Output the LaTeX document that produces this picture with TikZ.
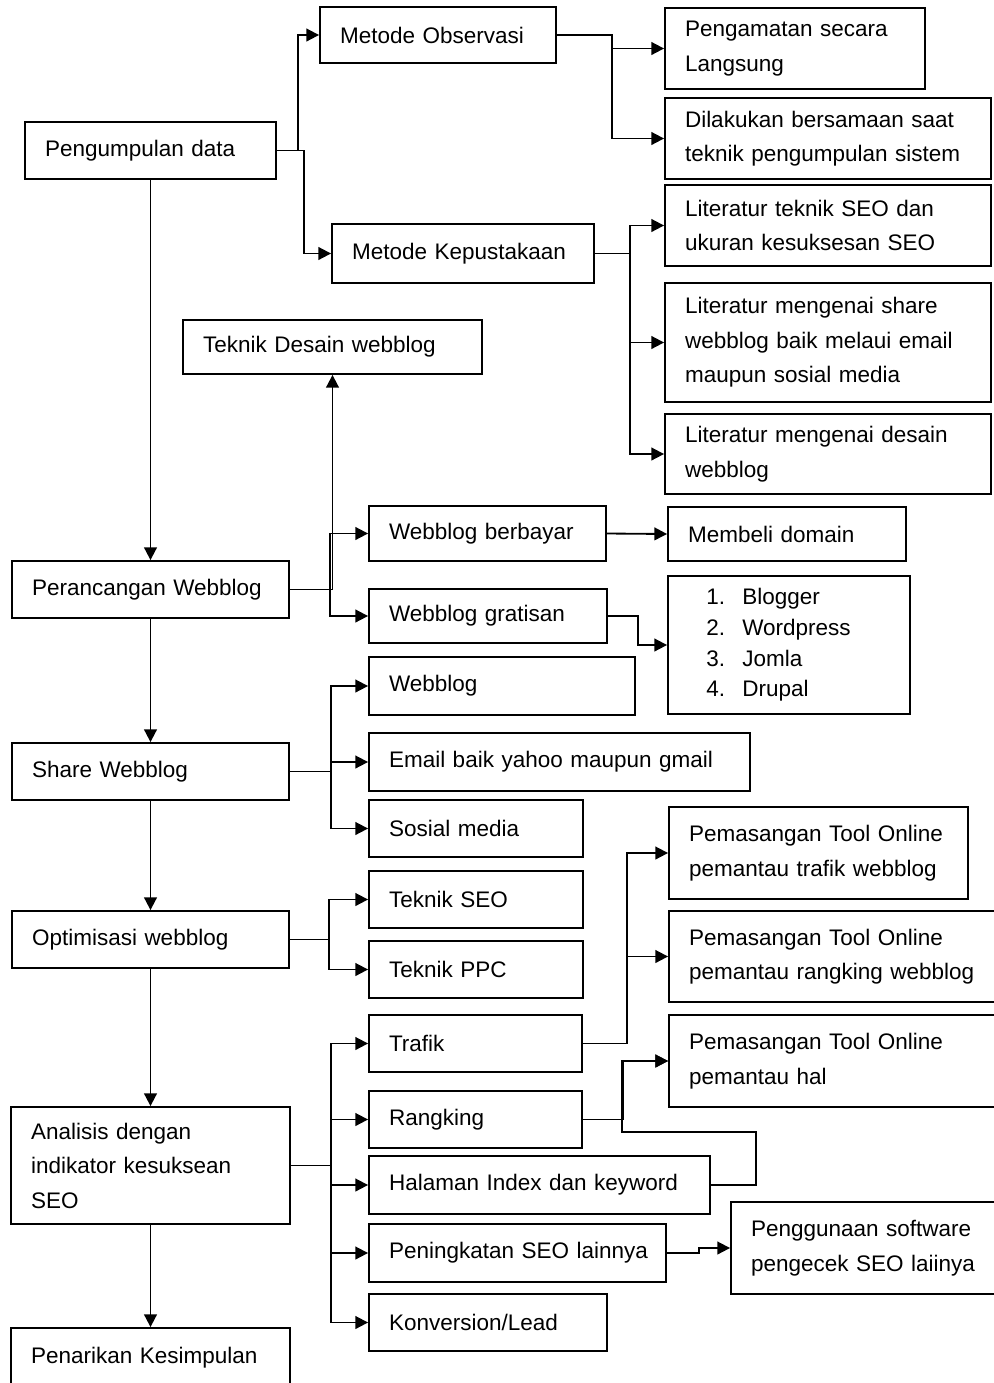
\documentclass[tikz,border=0pt]{standalone}
\usepackage{fontspec}
\setmainfont{Liberation Sans}
\usetikzlibrary{arrows.meta}

\tikzset{
  kotak/.style 2 args={draw, rectangle, line width=1.3pt, inner xsep=0.5cm, inner ysep=0pt,
    align=left, text width=#1*0.025cm-1cm, minimum height=#2*0.025cm},
  garis/.style={line width=1.3pt}
}

\begin{document}
\begin{tikzpicture}[x=0.025cm, y=-0.025cm, font=\fontsize{16}{24.5}\selectfont,
  >={Triangle[length=9pt,width=9pt]}]
\useasboundingbox (0,0) rectangle (994,1383);
\clip (0,0) rectangle (994,1383);

% alur utama
\node[kotak={251}{57}] (kumpul) at (150.5,150.5) {Pengumpulan data};
\node[kotak={277}{57}] (rancang) at (150.5,589.5) {Perancangan Webblog};
\node[kotak={277}{57}] (share) at (150.5,771.5) {Share Webblog};
\node[kotak={277}{57}] (optimasi) at (150.5,939.5) {Optimisasi webblog};
\node[kotak={279}{117}] (analisis) at (150.5,1165.5) {Analisis dengan\\indikator kesuksean\\SEO};
\node[kotak={279}{59}] (simpulan) at (150.5,1357.5) {Penarikan Kesimpulan};

% pengumpulan data
\node[kotak={236}{56}] (observasi) at (438,35) {Metode Observasi};
\node[kotak={262}{59}] (pustaka) at (463,253.5) {Metode Kepustakaan};
\node[kotak={260}{81}] (langsung) at (795,48.5) {Pengamatan secara\\Langsung};
\node[kotak={326}{81}] (bersamaan) at (828,138.5) {Dilakukan bersamaan saat\\teknik pengumpulan sistem};
\node[kotak={326}{81}] (litseo) at (828,225.5) {Literatur teknik SEO dan\\ukuran kesuksesan SEO};
\node[kotak={326}{119}] (litshare) at (828,342.5) {Literatur mengenai share\\webblog baik melaui email\\maupun sosial media};
\node[kotak={326}{80}] (litdesain) at (828,454) {Literatur mengenai desain\\webblog};

% perancangan
\node[kotak={299}{54}] (desain) at (332.5,347) {Teknik Desain webblog};
\node[kotak={237}{55}] (berbayar) at (487.5,533.5) {Webblog berbayar};
\node[kotak={238}{54}] (gratisan) at (488,616) {Webblog gratisan};
\node[kotak={238}{54}] (domain) at (787,534) {Membeli domain};
\node[kotak={242}{138}, font=\fontsize{16}{21.8}\selectfont] (daftar) at (789,645)
  {\hspace*{13pt}\makebox[25.6pt][l]{1.}Blogger\\
   \hspace*{13pt}\makebox[25.6pt][l]{2.}Wordpress\\
   \hspace*{13pt}\makebox[25.6pt][l]{3.}Jomla\\
   \hspace*{13pt}\makebox[25.6pt][l]{4.}Drupal};

% share
\node[kotak={266}{58}] (webblog) at (502,686) {Webblog};
\node[kotak={381}{58}] (email) at (559.5,762) {Email baik yahoo maupun gmail};
\node[kotak={214}{57}] (sosial) at (476,828.5) {Sosial media};

% optimisasi
\node[kotak={214}{57}] (seo) at (476,899.5) {Teknik SEO};
\node[kotak={214}{57}] (ppc) at (476,969.5) {Teknik PPC};

% analisis
\node[kotak={213}{57}] (trafik) at (475.5,1043.5) {Trafik};
\node[kotak={213}{57}] (rangking) at (475.5,1119.5) {Rangking};
\node[kotak={341}{58}] (halaman) at (539.5,1185) {Halaman Index dan keyword};
\node[kotak={297}{58}] (tingkat) at (517.5,1253) {\mbox{Peningkatan SEO lainnya}};
\node[kotak={238}{57}] (konversi) at (488,1322.5) {Konversion/Lead};
\node[kotak={299}{92}] (pantau1) at (818.5,853) {Pemasangan Tool Online\\pemantau trafik webblog};
\node[kotak={341}{91}] (pantau2) at (839.5,956.5) {Pemasangan Tool Online\\pemantau rangking webblog};
\node[kotak={341}{92}] (pantau3) at (839.5,1061) {Pemasangan Tool Online\\pemantau hal};
\node[kotak={279}{92}] (software) at (870.5,1248) {Penggunaan software\\pengecek SEO laiinya};
\coordinate (belok) at (622,1132);

% panah
\draw[garis, ->] (kumpul) -- (rancang);
\draw[garis, ->] (rancang) -- (share);
\draw[garis, ->] (share) -- (optimasi);
\draw[garis, ->] (optimasi) -- (analisis);
\draw[garis, ->] (analisis) -- (simpulan);

\draw[garis, ->] (kumpul.east) -- ++(21,0) |- (observasi.west);
\draw[garis, ->] (kumpul.east) -- ++(27,0) |- (pustaka.west);
\draw[garis, ->] (observasi.east) -- ++(55,0) |- (langsung.west);
\draw[garis, ->] (observasi.east) -- ++(55,0) |- (bersamaan.west);
\draw[garis, ->] (pustaka.east) -- ++(35,0) |- (litseo.west);
\draw[garis, ->] (pustaka.east) -- ++(35,0) |- (litshare.west);
\draw[garis, ->] (pustaka.east) -- ++(35,0) |- (litdesain.west);

\draw[garis, ->] (rancang.east) -| (desain.south);
\draw[garis, ->] (rancang.east) -- ++(40,0) |- (berbayar.west);
\draw[garis, ->] (rancang.east) -- ++(40,0) |- (gratisan.west);
\draw[garis, ->] (berbayar.east) -- (domain.west);
\draw[garis, ->] (gratisan.east) -- ++(30,0) |- (daftar.west);

\draw[garis, ->] (share.east) -- ++(41,0) |- (webblog.west);
\draw[garis, ->] (share.east) -- ++(41,0) |- (email.west);
\draw[garis, ->] (share.east) -- ++(41,0) |- (sosial.west);

\draw[garis, ->] (optimasi.east) -- ++(39,0) |- (seo.west);
\draw[garis, ->] (optimasi.east) -- ++(39,0) |- (ppc.west);

\draw[garis, ->] (analisis.east) -- ++(40,0) |- (trafik.west);
\draw[garis, ->] (analisis.east) -- ++(40,0) |- (rangking.west);
\draw[garis, ->] (analisis.east) -- ++(40,0) |- (halaman.west);
\draw[garis, ->] (analisis.east) -- ++(40,0) |- (tingkat.west);
\draw[garis, ->] (analisis.east) -- ++(40,0) |- (konversi.west);

\draw[garis, ->] (trafik.east) -- ++(44,0) |- (pantau1.west);
\draw[garis, ->] (trafik.east) -- ++(44,0) |- (pantau2.west);
\draw[garis, ->] (rangking.east) -- ++(40,0) |- (pantau3.west);
\draw[garis, ->] (halaman.east) -- ++(45,0) |- (belok) |- (pantau3.west);
\draw[garis, ->] (tingkat.east) -- ++(32,0) |- (software.west);
\end{tikzpicture}
\end{document}
